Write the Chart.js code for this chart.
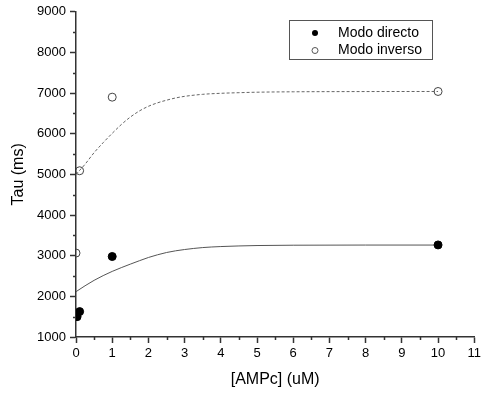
<!DOCTYPE html>
<html>
<head>
<meta charset="utf-8">
<script src="https://cdn.jsdelivr.net/npm/chart.js@4.4.1/dist/chart.umd.min.js"></script>
<style>
  html, body { margin: 0; padding: 0; background: #fff; }
  #wrap { width: 484px; height: 395px; }
</style>
</head>
<body>
<div id="wrap"><canvas id="c" width="484" height="395"></canvas></div>
<script>
// medidas
var concDirecto = [0.03, 0.1, 1, 10];
var tauDirecto  = [1500, 1625, 2980, 3265];
var concInverso = [0, 0.1, 1, 10];
var tauInverso  = [3065, 5090, 6900, 7040];

// curvas de ajuste
var fitX = [0, 0.25, 0.5, 0.75, 1, 1.25, 1.5, 1.75, 2, 2.25, 2.5, 2.75, 3, 3.5, 4, 4.5, 5, 6, 8, 10];
var fitDirectoY = [2115, 2260, 2394, 2510, 2614, 2706, 2792, 2876, 2956, 3022, 3078, 3120, 3152, 3200, 3225, 3240, 3250, 3258, 3262, 3262];
var fitInversoY = [5000, 5250, 5535, 5780, 6010, 6225, 6410, 6560, 6675, 6760, 6825, 6880, 6920, 6970, 6995, 7010, 7022, 7032, 7038, 7040];

var xTicks = [0, 1, 2, 3, 4, 5, 6, 7, 8, 9, 10, 11];
var yTicks = [1000, 2000, 3000, 4000, 5000, 6000, 7000, 8000, 9000];

var FONT = 'Liberation Sans, Arial, sans-serif';
var AXIS = '#333';

function pts(xs, ys) {
  return xs.map(function (x, i) { return { x: x, y: ys[i] }; });
}

function isMajor(v, list) {
  return list.indexOf(v) !== -1;
}

// marcas menores (mitad de paso), mas cortas que las principales
var minorTicks = {
  id: 'minorTicks',
  afterDraw: function (chart) {
    var ctx = chart.ctx, xs = chart.scales.x, ys = chart.scales.y, a = chart.chartArea;
    ctx.save();
    ctx.strokeStyle = AXIS;
    ctx.lineWidth = 1.5;
    ctx.beginPath();
    xs.ticks.forEach(function (t) {
      if (isMajor(t.value, xTicks)) return;
      var px = Math.round(xs.getPixelForValue(t.value)) + 0.5;
      ctx.moveTo(px, a.bottom);
      ctx.lineTo(px, a.bottom + 3);
    });
    ys.ticks.forEach(function (t) {
      if (isMajor(t.value, yTicks)) return;
      var py = Math.round(ys.getPixelForValue(t.value)) + 0.5;
      ctx.moveTo(a.left, py);
      ctx.lineTo(a.left - 3, py);
    });
    ctx.stroke();
    ctx.restore();
  }
};

// leyenda con recuadro
var boxLegend = {
  id: 'boxLegend',
  afterDraw: function (chart) {
    var ctx = chart.ctx;
    var items = chart.data.datasets.filter(function (d) { return d.inLegend; });
    ctx.save();
    ctx.strokeStyle = '#555';
    ctx.lineWidth = 1;
    ctx.strokeRect(289.5, 20.5, 143, 39);
    ctx.font = '14px ' + FONT;
    ctx.textBaseline = 'middle';
    ctx.fillStyle = '#000';
    items.forEach(function (d, i) {
      var y = 33 + i * 17.5;
      ctx.beginPath();
      ctx.arc(315, y, 3, 0, Math.PI * 2);
      if (d.pointBackgroundColor === '#000') {
        ctx.fillStyle = '#000';
        ctx.fill();
      } else {
        ctx.strokeStyle = '#555';
        ctx.lineWidth = 1;
        ctx.stroke();
      }
      ctx.fillStyle = '#000';
      ctx.fillText(d.label, 338, y);
    });
    ctx.restore();
  }
};

var chart = new Chart(document.getElementById('c'), {
  type: 'line',
  data: {
    datasets: [
      {
        label: 'ajuste directo',
        data: pts(fitX, fitDirectoY),
        borderColor: '#555',
        borderWidth: 1,
        pointRadius: 0,
        cubicInterpolationMode: 'monotone',
        fill: false,
        order: 3
      },
      {
        label: 'ajuste inverso',
        data: pts(fitX, fitInversoY),
        borderColor: '#666',
        borderWidth: 1,
        borderDash: [3, 2],
        pointRadius: 0,
        cubicInterpolationMode: 'monotone',
        fill: false,
        order: 3
      },
      {
        label: 'Modo directo',
        inLegend: true,
        data: pts(concDirecto, tauDirecto),
        showLine: false,
        pointRadius: 4,
        pointBackgroundColor: '#000',
        pointBorderColor: '#000',
        pointBorderWidth: 1,
        order: 1
      },
      {
        label: 'Modo inverso',
        inLegend: true,
        data: pts(concInverso, tauInverso),
        showLine: false,
        pointRadius: 4,
        pointBackgroundColor: 'rgba(0,0,0,0)',
        pointBorderColor: '#444',
        pointBorderWidth: 1,
        order: 1
      }
    ]
  },
  options: {
    responsive: false,
    animation: false,
    layout: { padding: { left: 0, right: 7, top: 10, bottom: 6 } },
    plugins: {
      legend: { display: false },
      tooltip: { enabled: false }
    },
    scales: {
      x: {
        type: 'linear',
        min: 0,
        max: 11,
        afterFit: function (s) { s.height = 52; },
        afterBuildTicks: function (s) {
          var t = [];
          for (var v = 0; v <= 22; v++) t.push({ value: v / 2 });
          s.ticks = t;
        },
        border: { display: true, color: AXIS, width: 1.5 },
        grid: {
          drawOnChartArea: false,
          drawTicks: true,
          tickLength: 6,
          tickWidth: 1.5,
          tickColor: function (c) { return isMajor(c.tick.value, xTicks) ? AXIS : 'rgba(0,0,0,0)'; }
        },
        ticks: {
          autoSkip: false,
          maxRotation: 0,
          padding: 3,
          color: '#000',
          font: { family: FONT, size: 13 },
          callback: function (v) { return isMajor(v, xTicks) ? String(v) : ''; }
        },
        title: {
          display: true,
          text: '[AMPc] (uM)',
          color: '#000',
          font: { family: FONT, size: 16 },
          padding: { top: 0, bottom: 0 }
        }
      },
      y: {
        type: 'linear',
        min: 1000,
        max: 9000,
        afterFit: function (s) { s.width = 76; },
        afterBuildTicks: function (s) {
          var t = [];
          for (var v = 1000; v <= 9000; v += 500) t.push({ value: v });
          s.ticks = t;
        },
        border: { display: true, color: AXIS, width: 1.5 },
        grid: {
          drawOnChartArea: false,
          drawTicks: true,
          tickLength: 6,
          tickWidth: 1.5,
          tickColor: function (c) { return isMajor(c.tick.value, yTicks) ? AXIS : 'rgba(0,0,0,0)'; }
        },
        ticks: {
          autoSkip: false,
          padding: 4,
          color: '#000',
          font: { family: FONT, size: 13 },
          callback: function (v) { return isMajor(v, yTicks) ? String(v) : ''; }
        },
        title: {
          display: true,
          text: 'Tau (ms)',
          color: '#000',
          font: { family: FONT, size: 16 },
          padding: { top: 9, bottom: 0 }
        }
      }
    }
  },
  plugins: [minorTicks, boxLegend]
});
</script>
</body>
</html>
